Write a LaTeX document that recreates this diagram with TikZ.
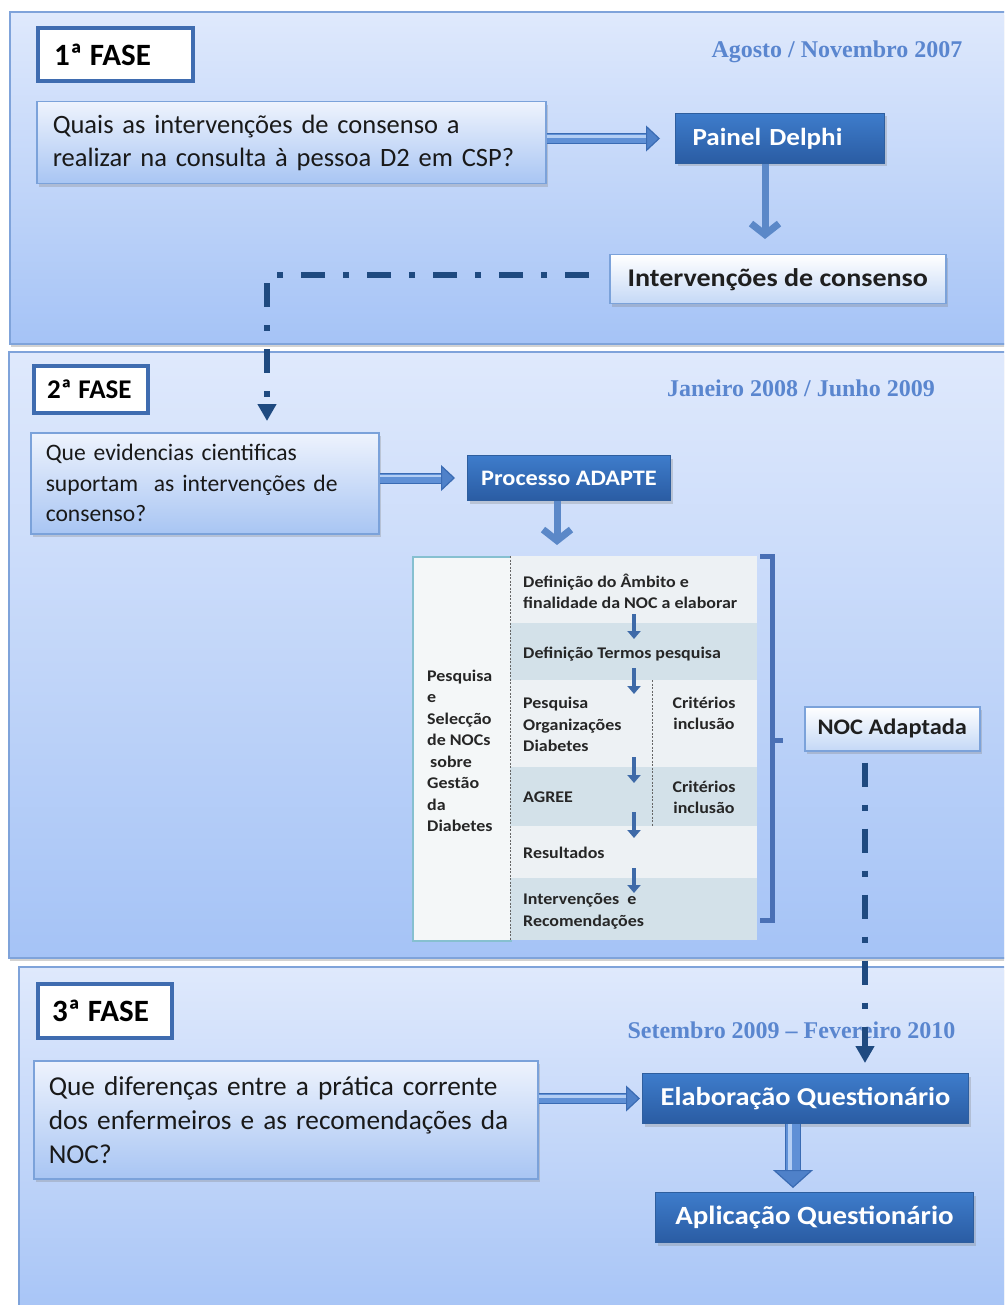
\documentclass[tikz,border=0pt]{standalone}
\usepackage{fontspec}
\setmainfont{Carlito}
\newfontfamily\datefont{Liberation Serif}
\newfontfamily\widefont{Carlito}[FakeStretch=1.1]
\usetikzlibrary{arrows.meta,shadows,calc}
\definecolor{paneltop}{HTML}{DFE9FC}
\definecolor{panelbot}{HTML}{A5C3F6}
\definecolor{panelline}{HTML}{7FA3DA}
\definecolor{faseline}{HTML}{3F6CB0}
\definecolor{qtop}{HTML}{EEF3FD}
\definecolor{qbot}{HTML}{A8C5F3}
\definecolor{qline}{HTML}{7BA2DA}
\definecolor{dtop}{HTML}{3E7CCB}
\definecolor{dbot}{HTML}{2A5CA3}
\definecolor{dline}{HTML}{2E5E9E}
\definecolor{datecol}{HTML}{5A86CF}
\definecolor{navy}{HTML}{1F4A80}
\definecolor{arrmid}{HTML}{5B88C8}
\definecolor{fatdark}{HTML}{3A6BB3}
\definecolor{fatmid}{HTML}{5F90D6}
\definecolor{fathead}{HTML}{4F81C9}
\definecolor{fatlight}{HTML}{B3CEF4}
\definecolor{rowlight}{HTML}{EDF1F4}
\definecolor{rowdark}{HTML}{D3E1E9}
\definecolor{tealline}{HTML}{86C0D0}
\definecolor{brk}{HTML}{4A70B5}
\definecolor{tabarr}{HTML}{3E6AA8}
\definecolor{tabtext}{HTML}{262626}
\definecolor{lbot}{HTML}{C4D8F6}
\newcommand{\myfs}[2]{\fontsize{#1}{#2}\selectfont}
\begin{document}
\begin{tikzpicture}[x=1pt,y=-1pt,
 panel/.style={draw=panelline,line width=2pt,top color=paneltop,bottom color=panelbot,anchor=north west,inner sep=0pt,
   drop shadow={shadow xshift=1pt,shadow yshift=-3pt,opacity=0.35}},
 fasebox/.style={draw=faseline,line width=4pt,fill=white,anchor=north west,inner ysep=0pt,align=left},
 qbox/.style={draw=qline,line width=1.5pt,top color=qtop,bottom color=qbot,anchor=north west,inner ysep=0pt,align=left,text=black!90,
   drop shadow={shadow xshift=2pt,shadow yshift=-3pt,opacity=0.3}},
 darkbox/.style={draw=dline,line width=1pt,top color=dtop,bottom color=dbot,text=white,anchor=north west,inner sep=0pt,align=center,
   drop shadow={shadow xshift=2pt,shadow yshift=-3pt,opacity=0.3}},
 lightbox/.style={draw=qline,line width=1.5pt,top color=white,bottom color=lbot,text=black!88,anchor=north west,inner sep=0pt,align=center,
   drop shadow={shadow xshift=2pt,shadow yshift=-3pt,opacity=0.3}},
 datelbl/.style={text=datecol,font=\datefont\bfseries\myfs{24}{26},inner sep=0pt},
 fatbase/.style={line width=11pt,draw=fatdark,-{Triangle[length=14pt,width=26pt,fill=fathead,line width=1.2pt]}},
 fatin/.style={line width=9pt,draw=fatmid},
 fathi/.style={line width=2.5pt,draw=fatlight},
 medarr/.style={line width=7pt,draw=arrmid,-{Straight Barb[length=11pt,width=28pt]}},
 dashdot/.style={draw=navy,line width=6pt,dash pattern=on 24pt off 18pt on 6pt off 18pt,-{Triangle[length=17pt,width=18pt]}},
 rowl/.style={fill=rowlight,anchor=north west,inner sep=0pt,minimum width=247pt},
 rowd/.style={fill=rowdark,anchor=north west,inner sep=0pt,minimum width=247pt},
 ttext/.style={anchor=west,align=left,inner sep=0pt,text=tabtext,font=\widefont\bfseries\myfs{16.3}{21.5}},
 tabarrow/.style={draw=tabarr,line width=4pt,-{Triangle[length=8pt,width=13pt]}},
 tabdash/.style={draw=black!60,line width=0.8pt,dash pattern=on 2pt off 1.5pt},
]
\useasboundingbox (0,0) rectangle (1004,1305);
\clip (0,0) rectangle (1004,1305);
\fill[white] (0,0) rectangle (1004,1305);

% ---------- panels
\node[panel,minimum width=1010pt,minimum height=332pt] (p1) at (9,11) {};
\node[panel,minimum width=1010pt,minimum height=606pt] (p2) at (8,351) {};
\node[panel,minimum width=1010pt,minimum height=360pt] (p3) at (18,966) {};

% ---------- phase 1
\node[fasebox,minimum width=155pt,minimum height=53pt,inner xsep=16pt,text width=123pt,font=\bfseries\myfs{31}{33}] (f1) at (36,26) {1ª\kern-3pt\ FASE};
\node[datelbl] (d1) at (837,52) {Agosto / Novembro 2007};
\node[qbox,minimum width=509pt,minimum height=82pt,inner xsep=16pt,text width=477pt,font=\myfs{26.5}{33}] (q1) at (36,101)
  {Quais as intervenções de consenso a\\realizar na consulta à pessoa D2 em CSP?};
\node[darkbox,minimum width=209pt,minimum height=50pt,align=left,inner xsep=17pt,text width=175pt,font=\widefont\bfseries\myfs{24.6}{26}] (delphi) at (675,113) {Painel Delphi};
\node[lightbox,minimum width=336pt,minimum height=49pt,font=\widefont\bfseries\myfs{25.5}{27}] (int) at (609,254) {Intervenções de consenso};

\draw[fatbase] (q1.east |- delphi.west) -- ($(delphi.west)+(-15,0)$);
\draw[fatin] (q1.east |- delphi.west) -- ($(delphi.west)+(-29,0)$);
\draw[fathi] ($(q1.east |- delphi.west)+(0,-2)$) -- ($(delphi.west)+(-29,-2)$);
\coordinate (dx) at (765,0);
\draw[medarr] (delphi.south -| dx) -- ($(int.north -| dx)+(0,-15)$);

% ---------- phase 2
\node[fasebox,minimum width=114pt,minimum height=47pt,inner xsep=13pt,text width=88pt,font=\bfseries\myfs{27}{29}] (f2) at (32,364) {2ª\kern-2.5pt\ FASE};
\node[datelbl] (d2) at (801,388) {Janeiro 2008 / Junho 2009};
\node[qbox,minimum width=348pt,minimum height=101pt,inner xsep=15pt,text width=318pt,font=\myfs{23.6}{30.5}] (q2) at (30,432)
  {Que evidencias cientificas\\suportam \ as intervenções de\\consenso?};
\node[darkbox,minimum width=203pt,minimum height=45pt,font=\widefont\bfseries\myfs{22.1}{24}] (adapte) at (467,455) {Processo ADAPTE};

\draw[fatbase] (q2.east |- adapte.west) -- ($(adapte.west)+(-12,0)$);
\draw[fatin] (q2.east |- adapte.west) -- ($(adapte.west)+(-26,0)$);
\draw[fathi] ($(q2.east |- adapte.west)+(0,-2)$) -- ($(adapte.west)+(-26,-2)$);

% table
\node[fill=rowlight!60!white,draw=tealline,line width=1.5pt,anchor=north west,inner sep=0pt,minimum width=98pt,minimum height=384pt] (lc) at (412,556) {};
\node[rowl,minimum height=67pt] (r1) at (510,556) {};
\node[rowd,minimum height=57pt] (r2) at (510,623) {};
\node[rowl,minimum height=87pt] (r3) at (510,680) {};
\node[rowd,minimum height=59pt] (r4) at (510,767) {};
\node[rowl,minimum height=52pt] (r5) at (510,826) {};
\node[rowd,minimum height=62pt] (r6) at (510,878) {};
\draw[tabdash] (r1.north west) -- (r6.south west);
\coordinate (ix) at (652,0);
\draw[tabdash] (r3.north -| ix) -- (r4.south -| ix);

\node[ttext] (lt) at (427,751) {Pesquisa\\e\\Selecção\\de NOCs\\\hspace*{3pt}sobre\\Gestão\\da\\Diabetes};
\node[ttext] (t1) at (523,591.5) {Definição do Âmbito e\\finalidade da NOC a elaborar};
\node[ttext] (t2) at (523,654) {Definição Termos pesquisa};
\node[ttext] (t3) at (523,724.5) {Pesquisa\\Organizações\\Diabetes};
\node[ttext,anchor=center,align=center] (c1) at (704,713.5) {Critérios\\inclusão};
\node[ttext] (t4) at (523,797) {AGREE};
\node[ttext,anchor=center,align=center] (c2) at (704,797.5) {Critérios\\inclusão};
\node[ttext] (t5) at (523,853) {Resultados};
\node[ttext] (t6) at (523,911.5) {Intervenções \ e\\Recomendações};

\coordinate (a1s) at (634,614); \coordinate (a1e) at (634,639);
\coordinate (a2s) at (634,668); \coordinate (a2e) at (634,694);
\coordinate (a3s) at (634,757); \coordinate (a3e) at (634,783);
\coordinate (a4s) at (634,812); \coordinate (a4e) at (634,838);
\coordinate (a5s) at (634,868); \coordinate (a5e) at (634,893);
\draw[tabarrow] (a1s) -- (a1e);
\draw[tabarrow] (a2s) -- (a2e);
\draw[tabarrow] (a3s) -- (a3e);
\draw[tabarrow] (a4s) -- (a4e);
\draw[tabarrow] (a5s) -- (a5e);

\coordinate (ax) at (557,0);
\draw[medarr] (adapte.south -| ax) -- ($(r1.north -| ax)+(0,-11)$);

% bracket
\draw[brk,line width=5pt] ($(r1.north east)+(3,0)$) -- ++(12,0) |- ($(r6.south east)+(3,-20)$);
\coordinate (bm) at (770,740);
\draw[brk,line width=5pt] (bm) -- ++(13,0);

\node[lightbox,minimum width=175pt,minimum height=44pt,font=\widefont\bfseries\myfs{22.2}{24}] (noc) at (804,706) {NOC Adaptada};

% ---------- phase 3
\node[fasebox,minimum width=134pt,minimum height=54pt,inner xsep=14pt,text width=106pt,font=\bfseries\myfs{31}{33}] (f3) at (36,982) {3ª\kern-3pt\ FASE};
\node[datelbl] (d3) at (791.5,1030) {Setembro 2009 – Fevereiro 2010};
\node[qbox,minimum width=504pt,minimum height=118pt,inner xsep=15pt,text width=474pt,font=\myfs{27.3}{34}] (q3) at (33,1060)
  {Que diferenças entre a prática corrente\\dos enfermeiros e as recomendações da\\NOC?};
\node[darkbox,minimum width=326pt,minimum height=50pt,font=\widefont\bfseries\myfs{25.8}{27}] (elab) at (642,1073) {Elaboração Questionário};
\node[darkbox,minimum width=318pt,minimum height=50pt,font=\widefont\bfseries\myfs{26.3}{28}] (apl) at (655,1192) {Aplicação Questionário};

\draw[fatbase] (q3.east |- elab.west) -- ($(elab.west)+(-2,0)$);
\draw[fatin] (q3.east |- elab.west) -- ($(elab.west)+(-16,0)$);
\draw[fathi] ($(q3.east |- elab.west)+(0,-2)$) -- ($(elab.west)+(-16,-2)$);
\coordinate (fx) at (793,0);
\draw[line width=16pt,draw=fatdark,-{Triangle[length=18pt,width=40pt,fill=fathead,line width=1.2pt]}] (elab.south -| fx) -- ($(apl.north -| fx)+(0,-4)$);
\draw[line width=13.5pt,draw=fatmid] (elab.south -| fx) -- ($(apl.north -| fx)+(0,-22)$);
\draw[line width=3.5pt,draw=fatlight] ($(elab.south -| fx)+(-3,0)$) -- ($(apl.north -| fx)+(-3,-22)$);

% ---------- dash-dot connectors
\coordinate (q2in) at (267,421);
\draw[dashdot] ($(int.west)+(-20,-4)$) -| (q2in);
\coordinate (elabin) at (865,1063);
\draw[dashdot] ($(noc.south -| elabin)+(0,11)$) -- (elabin);
\end{tikzpicture}
\end{document}
